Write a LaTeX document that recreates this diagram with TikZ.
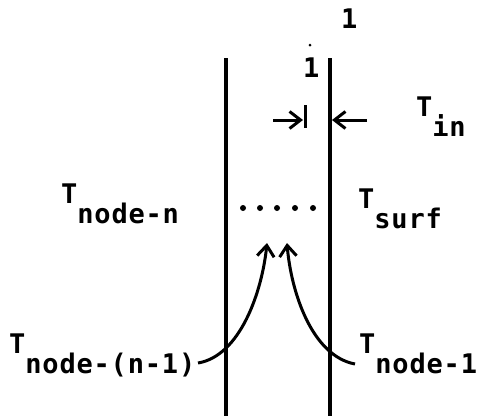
\documentclass[tikz,border=0pt]{standalone}
\usepackage{fontspec}
\setmonofont[LetterSpace=3]{DejaVu Sans Mono}
\usetikzlibrary{arrows.meta}
\newcommand{\Tsub}[1]{T\raisebox{-20pt}{#1}}
\begin{document}
\begin{tikzpicture}[x=1pt,y=-1pt,
  lbl/.style={anchor=base west,inner sep=0pt,font=\fontsize{27}{27}\selectfont\ttfamily\bfseries},
  wall/.style={line width=3.4pt},
  arr/.style={line width=3pt,-{Straight Barb[length=11pt,width=17pt,line width=3pt]}},
  dotm/.style={fill=black,circle,inner sep=0pt,minimum size=6pt}]
\useasboundingbox (0,0) rectangle (479,416);
% walls
\coordinate (lwt) at (226,58); \coordinate (lwb) at (226,416);
\coordinate (rwt) at (330,58); \coordinate (rwb) at (330,416);
\draw[wall] (lwt) -- (lwb);
\draw[wall] (rwt) -- (rwb);
% top labels
\node[lbl] (one) at (341,28) {1};
\node[fill=black,circle,inner sep=0pt,minimum size=3pt] (dt) at (310,45) {};
\node[lbl] (onesm) at (303,77) {1};
% thickness arrows
\coordinate (lat) at (273,120); \coordinate (lah) at (303,120);
\coordinate (tk1) at (305,105); \coordinate (tk2) at (305,128);
\coordinate (rat) at (367,120); \coordinate (rah) at (332,120);
\draw[arr] (lat) -- (lah);
\draw[line width=3pt] (tk1) -- (tk2);
\draw[arr] (rat) -- (rah);
\node[lbl] (tin) at (416,116) {\Tsub{in}};
% middle labels
\node[lbl] (tn) at (61,203) {\Tsub{node-n}};
\node[lbl] (ts) at (358,208) {\Tsub{surf}};
\foreach \i/\xx in {1/243,2/260,3/277,4/295,5/313}{
  \node[dotm] (d\i) at (\xx,208) {};
}
% bottom labels
\node[lbl] (tn1) at (9,353) {\Tsub{node-(n-1)}};
\node[lbl] (t1) at (359,353) {\Tsub{node-1}};
\coordinate (c1s) at (198,363); \coordinate (c1e) at (267,243);
\coordinate (c2s) at (355,364); \coordinate (c2e) at (287,243);
\draw[arr] (c1s) .. controls (240,356) and (262,292) .. (c1e);
\draw[arr] (c2s) .. controls (312,356) and (291,292) .. (c2e);
\end{tikzpicture}
\end{document}
